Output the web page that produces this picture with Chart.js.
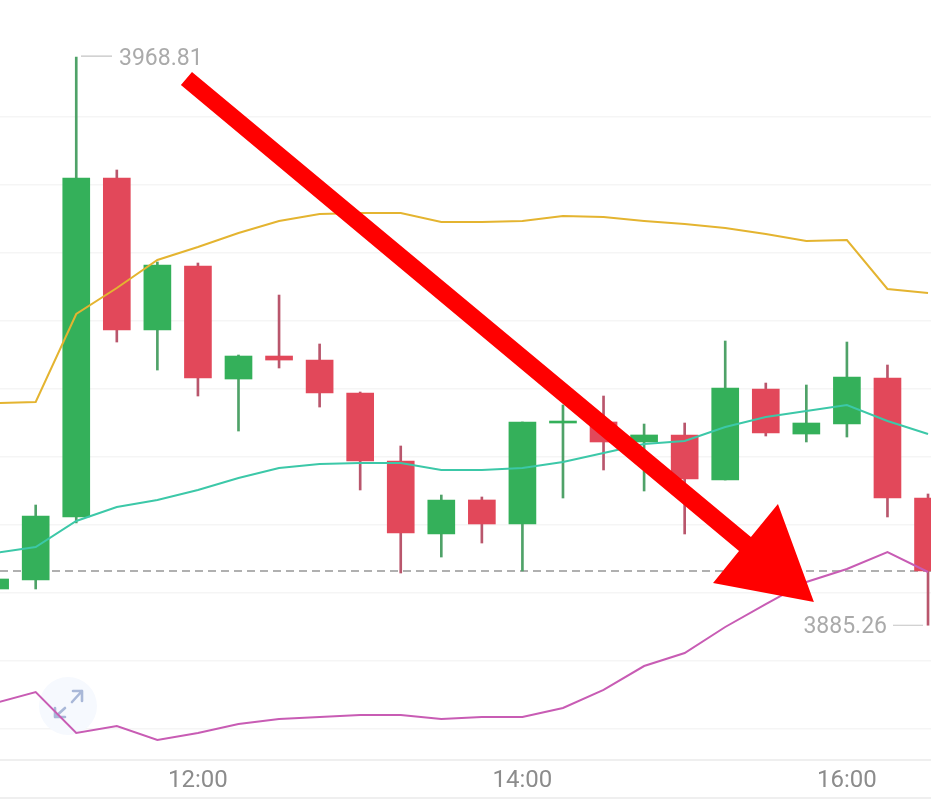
<!DOCTYPE html>
<html><head><meta charset="utf-8">
<style>html,body{margin:0;padding:0;background:#fff}canvas{display:block}</style>
<script src="https://cdn.jsdelivr.net/npm/chart.js@4"></script>
</head><body><canvas id="c" width="931" height="802"></canvas>
<script>
const times = ['10:45','11:00','11:15','11:30','11:45','12:00','12:15','12:30','12:45','13:00','13:15','13:30','13:45','14:00','14:15','14:30','14:45','15:00','15:15','15:30','15:45','16:00','16:15','16:30'];
const opens  = [3890.59,3891.91,3901.18,3951.03,3928.68,3938.09,3921.47,3924.85,3924.26,3919.41,3909.41,3898.68,3903.68,3900.15,3915.00,3915.15,3912.21,3913.24,3906.62,3920.00,3913.38,3914.85,3921.62,3903.97];
const closes = [3892.06,3901.32,3951.03,3928.68,3938.24,3921.62,3924.85,3924.26,3919.41,3909.41,3898.82,3903.68,3900.15,3915.15,3915.29,3912.21,3913.24,3906.76,3920.15,3913.53,3915.00,3921.76,3903.97,3893.24];
const highs  = [3892.06,3902.94,3968.81,3952.21,3938.68,3938.53,3925.00,3933.82,3926.62,3919.56,3911.62,3904.41,3904.12,3915.15,3917.65,3918.97,3914.85,3915.00,3927.06,3920.88,3920.59,3926.91,3923.53,3904.56];
const lows   = [3890.59,3890.59,3900.29,3926.91,3922.79,3918.97,3913.82,3923.09,3917.35,3905.15,3892.94,3895.29,3897.35,3893.24,3903.97,3908.09,3905.00,3898.68,3906.62,3913.09,3912.21,3912.94,3901.18,3885.26];
const upperBand = [3917.94,3918.09,3931.03,3934.85,3938.97,3940.88,3942.94,3944.71,3945.74,3945.88,3945.88,3944.56,3944.56,3944.71,3945.44,3945.29,3944.71,3944.26,3943.68,3942.79,3941.76,3941.91,3934.71,3934.12];
const midBand   = [3895.88,3896.76,3900.59,3902.65,3903.68,3905.15,3906.91,3908.38,3908.97,3909.12,3909.12,3908.09,3908.09,3908.38,3909.26,3910.59,3911.91,3912.35,3914.41,3915.88,3916.76,3917.65,3915.29,3913.38];
const lowerBand = [3873.82,3875.44,3869.41,3870.44,3868.38,3869.41,3870.74,3871.47,3871.76,3872.06,3872.06,3871.47,3871.76,3871.76,3873.09,3875.74,3879.26,3881.18,3885.00,3888.38,3891.62,3893.53,3896.03,3893.09];
const lastPrice = 3893.24;
const highLabel = '3968.81';
const lowLabel = '3885.26';
const arrowMinutes = [717.8,713.7,920.1,910.5,947.8,934.5,924.5];
const arrowValues  = [3966.62,3964.71,3896.18,3891.47,3888.68,3903.09,3898.24];

const GREEN='#34b05a', RED='#e2485a', GREEN_W='#4fa268', RED_W='#b9566c';
const minutes = times.map(t=>{const [h,m]=t.split(':').map(Number);return h*60+m;});
const isUp = opens.map((o,i)=>closes[i]>=o);
const pts = arr => arr.map((v,i)=>({x:minutes[i],y:v}));
const X_MIN=646.8, X_MAX=991.1, Y_MIN=3865.44, Y_MAX=3977.21;

const overlay = {
  id:'overlay',
  beforeDatasetsDraw(ch){
    const c=ch.ctx; c.save();
    c.fillStyle='#f6f9fe'; c.beginPath(); c.arc(68,706,29,0,Math.PI*2); c.fill();
    c.strokeStyle='#a9b8d8'; c.lineWidth=2.6; c.lineCap='round'; c.lineJoin='round';
    c.beginPath();
    c.moveTo(72,702);c.lineTo(82,691);c.moveTo(73,691);c.lineTo(82,691);c.lineTo(82,701);
    c.moveTo(65,708);c.lineTo(55,717);c.moveTo(55,708);c.lineTo(55,717);c.lineTo(65,717);
    c.stroke(); c.restore();
  },
  afterDatasetsDraw(ch){
    const c=ch.ctx,x=ch.scales.x,y=ch.scales.y; c.save();
    c.fillStyle='#aaaaaa'; c.strokeStyle='#c4c4c4'; c.lineWidth=1.2;
    c.font='23px Roboto, sans-serif'; c.textBaseline='middle';
    const hy=y.getPixelForValue(3968.81)-1, ly=y.getPixelForValue(3885.26);
    c.beginPath(); c.moveTo(81,hy); c.lineTo(112,hy); c.moveTo(893,ly); c.lineTo(923,ly); c.stroke();
    c.textAlign='left'; c.fillText(highLabel,119,hy+3);
    c.textAlign='right'; c.fillText(lowLabel,887,ly+2);
    c.fillStyle='#ff0000'; c.beginPath();
    arrowMinutes.forEach((m,i)=>{
      const px=x.getPixelForValue(m),py=y.getPixelForValue(arrowValues[i]);
      i?c.lineTo(px,py):c.moveTo(px,py);
    });
    c.closePath(); c.fill();
    c.strokeStyle='#efefef'; c.lineWidth=2; c.beginPath(); c.moveTo(0,798); c.lineTo(931,798); c.stroke();
    c.restore();
  }
};
const line=(label,data,color,order)=>({type:'line',label,data:pts(data),borderColor:color,borderWidth:2,pointRadius:0,tension:0,order});

new Chart(document.getElementById('c'),{
  type:'bar',
  data:{datasets:[
    line('Upper',upperBand,'#e4b430',1),
    line('Middle',midBand,'#3cc8a8',1),
    line('Lower',lowerBand,'#c85cb4',1),
    {type:'bar',label:'Body',data:minutes.map((m,i)=>({x:m,y:[opens[i],closes[i]]})),backgroundColor:isUp.map(u=>u?GREEN:RED),barThickness:27,grouped:false,order:2},
    {type:'bar',label:'Wick',data:minutes.map((m,i)=>({x:m,y:[lows[i],highs[i]]})),backgroundColor:isUp.map(u=>u?GREEN_W:RED_W),barThickness:2,grouped:false,order:3},
    {type:'line',label:'Last',data:[{x:X_MIN,y:lastPrice},{x:X_MAX,y:lastPrice}],borderColor:'#b0b0b0',borderWidth:2,borderDash:[8,5],pointRadius:0,order:4}
  ]},
  options:{
    responsive:false,animation:false,
    layout:{padding:0},
    plugins:{legend:{display:false},tooltip:{enabled:false}},
    scales:{
      x:{type:'linear',min:X_MIN,max:X_MAX,offset:false,
        afterBuildTicks(s){s.ticks=[720,840,960].map(v=>({value:v}));},
        afterFit(s){s.height=42;},
        grid:{display:false,drawTicks:false,offset:false},
        border:{display:true,color:'#efefef',width:2},
        ticks:{autoSkip:false,maxRotation:0,padding:7,color:'#8c8c8c',font:{family:'Roboto, sans-serif',size:24},
          callback:v=>String(Math.floor(v/60)).padStart(2,'0')+':'+String(v%60).padStart(2,'0')}
      },
      y:{type:'linear',min:Y_MIN,max:Y_MAX,
        afterBuildTicks(s){const t=[];for(let v=3870;v<=3960;v+=10)t.push({value:v});s.ticks=t;},
        afterFit(s){s.width=0;},
        grid:{color:'#f5f5f5',lineWidth:1.5,drawTicks:false},
        border:{display:false},
        ticks:{display:false}
      }
    }
  },
  plugins:[overlay]
});
</script></body></html>
